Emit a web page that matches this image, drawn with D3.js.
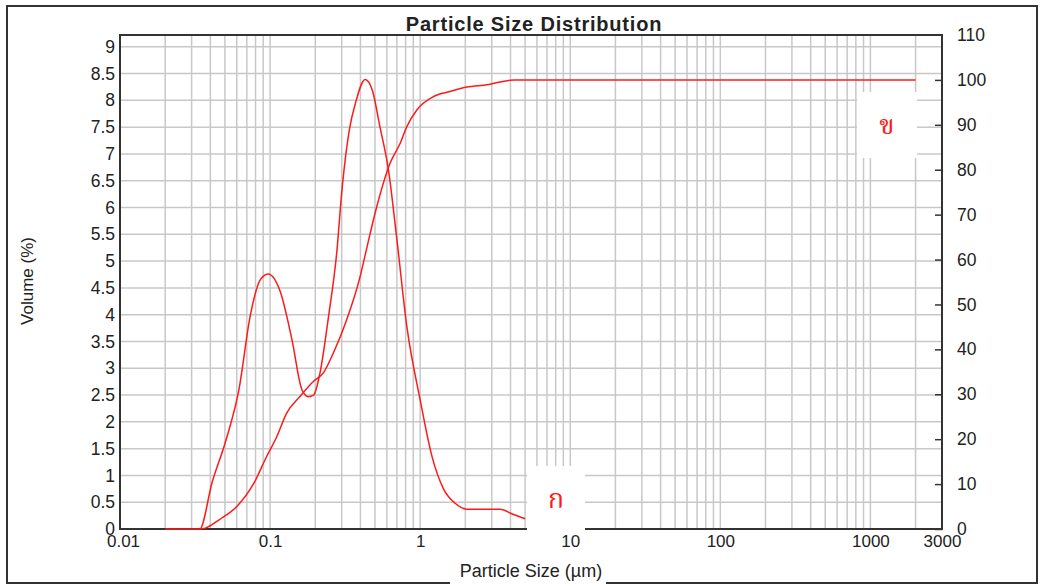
<!DOCTYPE html>
<html>
<head>
<meta charset="utf-8">
<title>Particle Size Distribution</title>
<script src="https://cdn.jsdelivr.net/npm/d3@7"></script>
<style>
  body { margin: 0; background: #fff; }
  text { font-family: "Liberation Sans", Arial, sans-serif; fill: #222; }
</style>
</head>
<body>
<script>
// particle size (um) -> volume (%), left axis
var densitySize = [0.02, 0.034, 0.041, 0.051, 0.062, 0.074, 0.086, 0.097, 0.117, 0.14, 0.163, 0.18, 0.195, 0.215, 0.245, 0.279, 0.30, 0.34, 0.37, 0.43, 0.48, 0.54, 0.615, 0.70, 0.815, 1.0, 1.2, 1.43, 1.71, 2.05, 3.41, 4.19, 5.0];
var densityVol  = [0, 0, 0.86, 1.67, 2.6, 4.0, 4.65, 4.76, 4.43, 3.53, 2.6, 2.47, 2.5, 2.91, 3.96, 5.2, 6.27, 7.5, 7.94, 8.39, 8.19, 7.5, 6.7, 5.4, 3.78, 2.41, 1.35, 0.75, 0.48, 0.37, 0.37, 0.27, 0.19];

// particle size (um) -> cumulative volume (%), right axis
var cumSize = [0.034, 0.037, 0.046, 0.06, 0.078, 0.095, 0.111, 0.129, 0.158, 0.195, 0.226, 0.264, 0.324, 0.398, 0.43, 0.514, 0.631, 0.736, 0.815, 0.95, 1.23, 1.58, 2.05, 2.78, 4.19, 2000];
var cumVol  = [0, 0.2, 2.1, 5.0, 10.2, 16.2, 20.6, 25.8, 29.5, 32.9, 34.7, 39.2, 46.6, 56.2, 61, 71.8, 81.5, 85.9, 89.6, 93.3, 96.3, 97.4, 98.4, 98.9, 100, 100];

var xTicks = [0.01, 0.1, 1, 10, 100, 1000, 3000];
var leftTicks = d3.range(0, 9.01, 0.5);
var rightTicks = d3.range(0, 111, 10);

var w = 1041, h = 585;
var px0 = 120, px1 = 942, py0 = 35, py1 = 529;

var svg = d3.select("body").append("svg")
    .attr("width", w)
    .attr("height", h);

var x = d3.scaleLog().domain([0.01, 3000]).range([px0, px1]);
var yL = d3.scaleLinear().domain([0, 9.22]).range([py1, py0]);
var yR = d3.scaleLinear().domain([0, 110]).range([py1, py0]);

// outer frame
svg.append("rect")
    .attr("x", 7).attr("y", 6)
    .attr("width", 1030).attr("height", 577)
    .attr("fill", "none").attr("stroke", "#333").attr("stroke-width", 2);

// grid lines
var minor = [];
[0.01, 0.1, 1, 10, 100, 1000].forEach(function(d) {
    for (var k = 1; k <= 9; k++) minor.push(d * k);
});

svg.append("g").selectAll("line")
    .data(minor.filter(function(d) { return d > 0.01 && d < 3000; }))
    .enter().append("line")
    .attr("x1", function(d) { return x(d); })
    .attr("x2", function(d) { return x(d); })
    .attr("y1", py0).attr("y2", py1)
    .attr("stroke", "#c8c8c8").attr("stroke-width", 1.5);

svg.append("g").selectAll("line")
    .data(leftTicks.filter(function(d) { return d > 0; }))
    .enter().append("line")
    .attr("x1", px0).attr("x2", px1)
    .attr("y1", function(d) { return yL(d); })
    .attr("y2", function(d) { return yL(d); })
    .attr("stroke", "#c8c8c8").attr("stroke-width", 1.5);

// plot border
svg.append("rect")
    .attr("x", px0).attr("y", py0)
    .attr("width", px1 - px0).attr("height", py1 - py0)
    .attr("fill", "none").attr("stroke", "#333").attr("stroke-width", 2);

// curves (drawn over the border, like the original)
var cumLine = d3.line()
    .x(function(d) { return x(d[0]); })
    .y(function(d) { return yR(d[1]); })
    .curve(d3.curveMonotoneX);
var volLine = d3.line()
    .x(function(d) { return x(d[0]); })
    .y(function(d) { return yL(d[1]); })
    .curve(d3.curveMonotoneX);

svg.append("path")
    .datum(d3.zip(cumSize, cumVol))
    .attr("d", cumLine)
    .attr("fill", "none").attr("stroke", "#ff1a1a").attr("stroke-width", 1.5);

svg.append("path")
    .datum(d3.zip(densitySize, densityVol))
    .attr("d", volLine)
    .attr("fill", "none").attr("stroke", "#ff1a1a").attr("stroke-width", 1.5);

// axes
var fmt = function(d) { return String(d); };

var gx = svg.append("g")
    .attr("transform", "translate(0," + py1 + ")")
    .call(d3.axisBottom(x).tickValues(xTicks).tickSize(0).tickPadding(6).tickFormat(fmt));
gx.select(".domain").remove();
gx.selectAll("text").attr("font-size", 17).attr("fill", "#222");
gx.selectAll(".tick").filter(function(d) { return d === 0.01; }).select("text").attr("dx", 3);

var gl = svg.append("g")
    .attr("transform", "translate(" + px0 + ",0)")
    .call(d3.axisLeft(yL).tickValues(leftTicks).tickSize(0).tickPadding(5).tickFormat(fmt));
gl.select(".domain").remove();
gl.selectAll("text").attr("font-size", 17.5).attr("fill", "#222");

var gr = svg.append("g")
    .attr("transform", "translate(" + px1 + ",0)")
    .call(d3.axisRight(yR).tickValues(rightTicks).tickSizeInner(-7).tickSizeOuter(0).tickPadding(15).tickFormat(fmt));
gr.select(".domain").remove();
gr.selectAll("line").attr("stroke", "#333").attr("stroke-width", 1.5);
gr.selectAll(".tick").filter(function(d) { return d === 110; }).select("line").remove();
gr.selectAll("text").attr("font-size", 17.5).attr("fill", "#222");

// titles
svg.append("text")
    .attr("x", 534).attr("y", 31)
    .attr("text-anchor", "middle")
    .attr("font-size", 20).attr("font-weight", "bold")
    .style("letter-spacing", "0.8px")
    .text("Particle Size Distribution");

svg.append("rect")
    .attr("x", 450).attr("y", 556).attr("width", 156).attr("height", 29)
    .attr("fill", "#fff");
svg.append("text")
    .attr("x", 531).attr("y", 577)
    .attr("text-anchor", "middle")
    .attr("font-size", 18)
    .text("Particle Size (\u00b5m)");

svg.append("text")
    .attr("transform", "translate(33,281) rotate(-90)")
    .attr("text-anchor", "middle")
    .attr("font-size", 17)
    .text("Volume (%)");

// curve labels in white boxes
var labels = [
    { t: "\u0e01", x: 527, y: 466, w: 58, h: 65 },
    { t: "\u0e02", x: 857, y: 92, w: 60, h: 66 }
];
labels.forEach(function(d) {
    svg.append("rect")
        .attr("x", d.x).attr("y", d.y).attr("width", d.w).attr("height", d.h)
        .attr("fill", "#fff");
    svg.append("text")
        .attr("x", d.x + d.w / 2).attr("y", d.y + d.h / 2 + 9)
        .attr("text-anchor", "middle")
        .attr("font-size", 27)
        .style("font-family", "'Noto Serif Thai', 'Noto Sans Thai', 'DejaVu Serif', serif")
        .style("fill", "#ff1a1a")
        .text(d.t);
});
</script>
</body>
</html>
